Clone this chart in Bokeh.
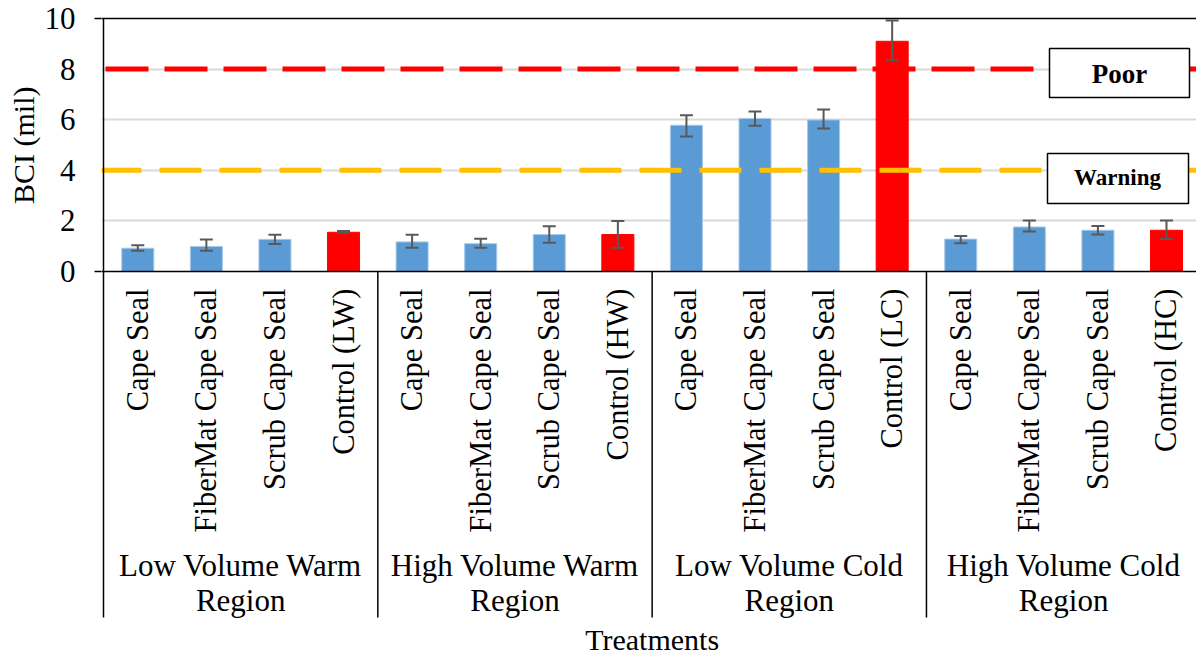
import math
from bokeh.plotting import figure
from bokeh.models import Range1d, FixedTicker, Span, Whisker, TeeHead, ColumnDataSource, Title
from bokeh.core.properties import value
from bokeh.embed import file_html
from bokeh.resources import INLINE

# ---------------- data ----------------
treatments = ["Cape Seal", "FiberMat Cape Seal", "Scrub Cape Seal", "Control (LW)",
              "Cape Seal", "FiberMat Cape Seal", "Scrub Cape Seal", "Control (HW)",
              "Cape Seal", "FiberMat Cape Seal", "Scrub Cape Seal", "Control (LC)",
              "Cape Seal", "FiberMat Cape Seal", "Scrub Cape Seal", "Control (HC)"]
region_line1 = ["Low Volume Warm", "High Volume Warm", "Low Volume Cold", "High Volume Cold"]
region_line2 = ["Region", "Region", "Region", "Region"]
bci_mean = [0.92, 0.99, 1.27, 1.55, 1.17, 1.10, 1.46, 1.46,
            5.78, 6.05, 5.99, 9.10, 1.28, 1.76, 1.63, 1.63]
bci_lower = [0.82, 0.82, 1.09, 1.52, 0.94, 0.94, 1.14, 0.94,
             5.34, 5.76, 5.65, 8.35, 1.12, 1.58, 1.46, 1.28]
bci_upper = [1.04, 1.26, 1.45, 1.60, 1.45, 1.29, 1.79, 2.00,
             6.18, 6.32, 6.40, 9.92, 1.40, 2.02, 1.80, 2.02]
y_ticks = [0, 2, 4, 6, 8, 10]
poor_level = 8
warning_level = 4
threshold_labels = ["Poor", "Warning"]

FONT = "Liberation Serif"
BLUE = "#5b9bd5"
RED = "#ff0000"
ORANGE = "#ffc000"

n = len(treatments)
xs = [i + 0.5 for i in range(n)]
is_control = [t.startswith("Control") for t in treatments]
fills = [RED if c else BLUE for c in is_control]
edges = [RED if c else "#a7c8ea" for c in is_control]

# ---------------- layout constants (page pixels) ----------------
W, H = 1196, 656
CW = 68.58          # px per category
S = 25.3            # px per BCI unit
X0 = 103            # page x of category 0 / y axis
Y0 = 271            # page y of BCI = 0
FRAME_LEFT = 101
FRAME_TOP = 16

def xd(X):
    return (X - X0) / CW

def yd(Y):
    return (Y0 - Y) / S

p = figure(width=W, height=H,
           x_range=Range1d(xd(FRAME_LEFT), xd(W)),
           y_range=Range1d(yd(H), yd(FRAME_TOP)),
           x_axis_location=None, toolbar_location=None, output_backend="svg",
           min_border_left=FRAME_LEFT, min_border_right=0, min_border_top=FRAME_TOP,
           min_border_bottom=0)
p.outline_line_color = None
p.background_fill_color = "white"
p.border_fill_color = "white"
p.xgrid.visible = False
p.ygrid.ticker = FixedTicker(ticks=[t for t in y_ticks if 0 < t < 10])
p.ygrid.grid_line_color = "#d9d9d9"
p.ygrid.grid_line_width = 2

ax = p.yaxis[0]
ax.bounds = (y_ticks[0], y_ticks[-1])
ax.ticker = FixedTicker(ticks=y_ticks, minor_ticks=[y_ticks[0], y_ticks[-1]])
ax.major_tick_line_color = None
ax.major_tick_out = 0
ax.major_tick_in = 0
ax.minor_tick_line_color = "black"
ax.minor_tick_out = 7
ax.minor_tick_in = 0
ax.minor_tick_line_width = 1.5
ax.axis_line_color = None
ax.major_label_text_font = FONT
ax.major_label_text_font_size = "31px"
ax.major_label_text_color = "black"
ax.major_label_standoff = 19

# y axis title, placed along the 0..10 part of the axis
ytitle = Title(text="BCI (mil)", align="right", offset=70, standoff=4,
               text_font=FONT, text_font_size="30px", text_font_style="normal",
               text_color="black")
p.add_layout(ytitle, "left")

src = ColumnDataSource(dict(x=xs, top=bci_mean, lower=bci_lower, upper=bci_upper,
                            fill=fills, edge=edges))
p.vbar(x="x", top="top", width=0.467, bottom=0, fill_color="fill", line_color="edge",
       line_width=1, source=src)

# threshold dashed lines
x_lo, x_hi = xd(FRAME_LEFT), xd(W)
p.segment(x0=[xd(X0)], x1=[x_hi], y0=[poor_level], y1=[poor_level], line_color=RED,
          line_width=5, line_dash="43 16", line_dash_offset=57)
p.segment(x0=[x_lo], x1=[x_hi], y0=[warning_level], y1=[warning_level], line_color=ORANGE,
          line_width=5, line_dash="42 18", line_dash_offset=2)

# label boxes
p.quad(left=[xd(1049), xd(1047)], right=[xd(1189), xd(1188)],
       bottom=[yd(97), yd(203)], top=[yd(48), yd(153)],
       fill_color="white", line_color="black", line_width=1.5)
p.text(x=[xd(1119)], y=[yd(73)], text=[threshold_labels[0]], text_font=value(FONT),
       text_font_size="27px", text_font_style="bold", text_align="center",
       text_baseline="middle", text_color="black")
p.text(x=[xd(1117)], y=[yd(177)], text=[threshold_labels[1]], text_font=value(FONT),
       text_font_size="23px", text_font_style="bold", text_align="center",
       text_baseline="middle", text_color="black")

# error bars
wh = Whisker(base="x", upper="upper", lower="lower", source=src,
             line_color="#595959", line_width=2, level="annotation",
             upper_head=TeeHead(size=13, line_color="#595959", line_width=2),
             lower_head=TeeHead(size=13, line_color="#595959", line_width=2))
p.add_layout(wh)

p.add_layout(Span(location=0, dimension="width", line_color="black", line_width=1.5))
p.add_layout(Span(location=10, dimension="width", line_color="black", line_width=1.5))

# ---------------- category axis area ----------------
y_end = yd(617)
p.segment(x0=[0, 4, 8, 12], x1=[0, 4, 8, 12], y0=[10, 0, 0, 0], y1=[y_end] * 4,
          line_color="black", line_width=1.5)
p.text(x=xs, y=[yd(288)] * n, text=treatments, angle=math.pi / 2, text_font=value(FONT),
       text_font_size="30.5px", text_align="right", text_baseline="middle",
       text_color="black")
gx = [2, 6, 10, 14]
p.text(x=gx, y=[yd(565)] * 4, text=region_line1, text_font=value(FONT),
       text_font_size="31px", text_align="center", text_baseline="middle", text_color="black")
p.text(x=gx, y=[yd(600)] * 4, text=region_line2, text_font=value(FONT),
       text_font_size="31px", text_align="center", text_baseline="middle", text_color="black")
p.text(x=[8], y=[yd(639)], text=["Treatments"], text_font=value(FONT), text_font_size="30px",
       text_align="center", text_baseline="middle", text_color="black")

open("out.html", "w").write(file_html(p, INLINE))
